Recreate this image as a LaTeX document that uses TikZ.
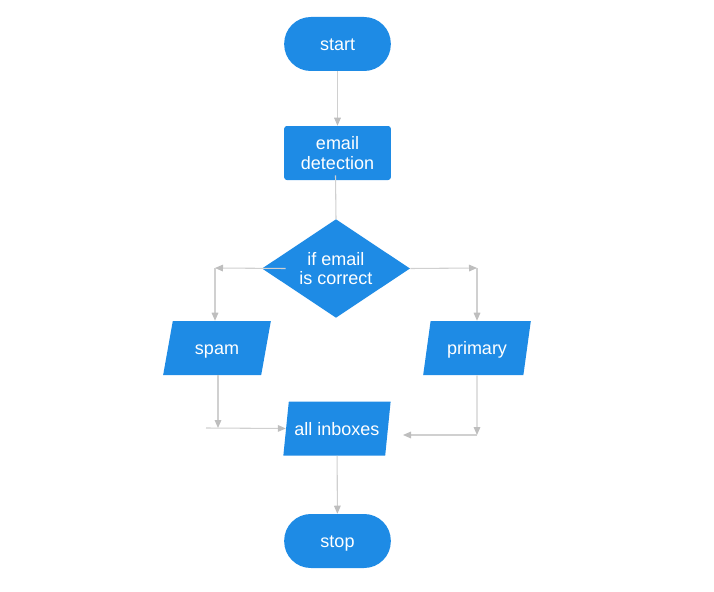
\documentclass[tikz,border=0pt]{standalone}
\usepackage{fontspec}
\setmainfont{Liberation Sans}
\usetikzlibrary{shapes.geometric,arrows.meta}
\definecolor{flowblue}{RGB}{30,139,229}
\definecolor{linegray}{RGB}{208,208,208}
\definecolor{tipgray}{RGB}{190,190,190}

\begin{document}
\begin{tikzpicture}[x=0.75pt, y=-0.75pt,
  every node/.style={fill=flowblue, text=white, font=\fontsize{13.5}{14.5}\selectfont, align=center, inner sep=0pt},
  terminal/.style={rectangle, rounded corners=20pt, minimum width=80pt, minimum height=40.5pt, text height=11.5pt, text depth=1.5pt},
  process/.style={rectangle, rounded corners=2pt, minimum width=80pt, minimum height=40.5pt},
  decision/.style={diamond, aspect=1.5, minimum width=111pt, minimum height=74pt},
  io/.style={trapezium, trapezium left angle=74.5, trapezium right angle=105.5, trapezium stretches=true, minimum width=81pt, minimum height=40.5pt, text height=11.5pt, text depth=1.5pt},
  link/.style={draw=linegray, line width=0.8pt, -{Triangle[length=6pt, width=5pt, color=tipgray]}},
  plain/.style={draw=linegray, line width=0.8pt}]
\useasboundingbox (0,0) rectangle (714,592);
% main column
\node[terminal] (start) at (337.5,44) {start};
\node[process] (email) at (337.5,153) {email\\detection};
\node[decision] (dec) at (336,268.5) {if email\\is correct};
\node[io] (inbox) at (337,428.5) {all inboxes};
\node[terminal] (stop) at (337.5,541) {stop};
% branches
\node[io] (spam) at (217,348) {spam};
\node[io] (primary) at (477,348) {primary};
\coordinate (lc) at (215,268);
\coordinate (rc) at (477,268);
\coordinate (sc) at (218,428);
\coordinate (sl) at (206,428);
\coordinate (pc) at (477,435);
\coordinate (pe) at (403,435);
% connectors
\draw[link] (start) -- (email);
\draw[plain] ([shift={(-2,-5)}]email.south) -- (dec.north);
\draw[link] ([xshift=18]dec.west) -- (lc);
\draw[link] (lc) -- (lc |- spam.north);
\draw[link] (dec.east) -- (rc);
\draw[link] (rc) -- (rc |- primary.north);
\draw[link] (sc |- spam.south) -- (sc);
\draw[link] (sl) -- (inbox.west);
\draw[link] (primary.south) -- (pc);
\draw[link] (pc) -- (pe);
\draw[link] (inbox) -- (stop);
\end{tikzpicture}
\end{document}
